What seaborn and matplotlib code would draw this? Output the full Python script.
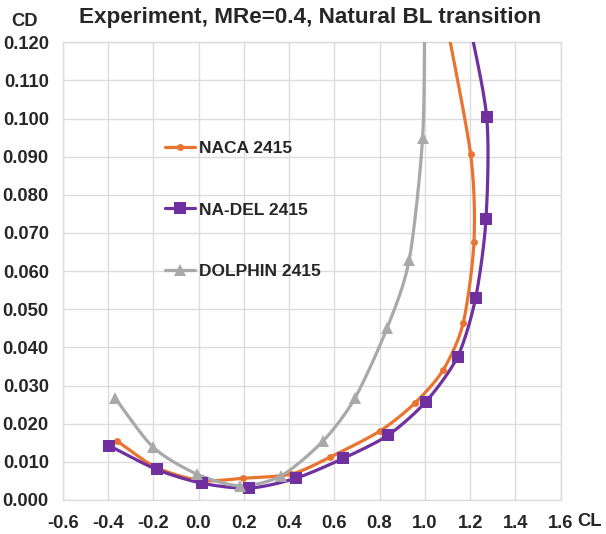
import numpy as np
import pandas as pd
import matplotlib
matplotlib.use("Agg")
import matplotlib.pyplot as plt
from matplotlib.lines import Line2D
import seaborn as sns

# ---- data ----
naca_cl = [-0.361, -0.19, 0.007, 0.198, 0.41, 0.581, 0.802, 0.956, 1.081, 1.169, 1.217, 1.202, 1.08]
naca_cd = [0.0155, 0.0086, 0.0051, 0.0057, 0.0068, 0.0112, 0.0181, 0.0254, 0.0341, 0.0463, 0.0677, 0.0907, 0.130]

nadel_cl = [-0.394, -0.185, 0.014, 0.224, 0.430, 0.639, 0.838, 1.005, 1.145, 1.224, 1.270, 1.273, 1.18]
nadel_cd = [0.0142, 0.0080, 0.0044, 0.0031, 0.0057, 0.0109, 0.0170, 0.0258, 0.0376, 0.0529, 0.0736, 0.1005, 0.130]

dolphin_cl = [-0.369, -0.200, -0.008, 0.183, 0.364, 0.551, 0.691, 0.834, 0.931, 0.990, 1.000]
dolphin_cd = [0.0267, 0.0138, 0.0068, 0.0037, 0.0063, 0.0155, 0.0267, 0.0452, 0.0630, 0.0950, 0.130]

series_names = ["NACA 2415", "NA-DEL 2415", "DOLPHIN 2415"]
x_ticks = [-0.6, -0.4, -0.2, 0.0, 0.2, 0.4, 0.6, 0.8, 1.0, 1.2, 1.4, 1.6]
y_ticks = [0.000, 0.010, 0.020, 0.030, 0.040, 0.050, 0.060, 0.070, 0.080, 0.090, 0.100, 0.110, 0.120]

colors = {"NACA 2415": "#E8742F", "NA-DEL 2415": "#7030A0", "DOLPHIN 2415": "#A9A9A9"}
markers = {"NACA 2415": "o", "NA-DEL 2415": "s", "DOLPHIN 2415": "^"}
msizes = {"NACA 2415": 5, "NA-DEL 2415": 8, "DOLPHIN 2415": 8.5}


def smooth_path(xs, ys, xscale, yscale, n=30):
    """Excel-like smooth line: cardinal spline through the points (in display-scaled space)."""
    P = np.column_stack([np.asarray(xs) * xscale, np.asarray(ys) * yscale])
    P = np.vstack([2 * P[0] - P[1], P, 2 * P[-1] - P[-2]])
    out = []
    for i in range(1, len(P) - 2):
        p0, p1, p2, p3 = P[i - 1], P[i], P[i + 1], P[i + 2]
        t = np.linspace(0, 1, n, endpoint=(i == len(P) - 3))
        m1 = (p2 - p0) / 2 * 0.8
        m2 = (p3 - p1) / 2 * 0.8
        h00 = 2 * t**3 - 3 * t**2 + 1
        h10 = t**3 - 2 * t**2 + t
        h01 = -2 * t**3 + 3 * t**2
        h11 = t**3 - t**2
        seg = (np.outer(h00, p1) + np.outer(h10, m1) + np.outer(h01, p2) + np.outer(h11, m2))
        out.append(seg)
    out = np.vstack(out)
    return out[:, 0] / xscale, out[:, 1] / yscale


sns.set_theme(style="whitegrid")
plt.rcParams["font.family"] = ["Liberation Sans", "DejaVu Sans"]

fig = plt.figure(figsize=(6.06, 5.34), dpi=100)
ax = fig.add_axes([0.1035, 0.0637, 0.8217, 0.8571])
ax.set_facecolor("white")

data = {
    "NACA 2415": (naca_cl, naca_cd),
    "NA-DEL 2415": (nadel_cl, nadel_cd),
    "DOLPHIN 2415": (dolphin_cl, dolphin_cd),
}

# pixels per unit in the axes
xscale = 226.4
yscale = 38140.0

for name in series_names:
    xs, ys = data[name]
    sx, sy = smooth_path(xs, ys, xscale, yscale)
    sns.lineplot(x=sx, y=sy, sort=False, estimator=None, ax=ax, color=colors[name],
                 linewidth=2.3, zorder=3)
    sns.lineplot(x=xs, y=ys, sort=False, estimator=None, ax=ax, color=colors[name],
                 linewidth=0, marker=markers[name], markersize=msizes[name],
                 markeredgewidth=0, zorder=4)

TXT = "#262626"
ax.set_xlim(-0.6, 1.6)
ax.set_ylim(0.0, 0.12)
ax.set_xticks(x_ticks)
ax.set_yticks(y_ticks)
ax.set_xticklabels([f"{v:.1f}" for v in x_ticks], fontsize=13.2, fontweight="bold", color=TXT)
ax.set_yticklabels([f"{v:.3f}" for v in y_ticks], fontsize=13.2, fontweight="bold", color=TXT)
ax.tick_params(axis="x", length=0, pad=11)
ax.tick_params(axis="y", length=0, pad=10)
ax.grid(True, color="#dcdcdc", linewidth=1.0)
for s in ax.spines.values():
    s.set_color("#dcdcdc")
    s.set_linewidth(1.0)
ax.set_xlabel("")
ax.set_ylabel("")

# axis titles as in the reference
fig.text(24 / 606, 1 - 21 / 534, "CD", ha="center", va="center", fontsize=13.2,
         fontweight="bold", color=TXT)
fig.text(590 / 606, 1 - 521.5 / 534, "CL", ha="center", va="center", fontsize=13.2,
         fontweight="bold", color=TXT)
fig.text(310 / 606, 1 - 18 / 534, "Experiment, MRe=0.4, Natural BL transition", ha="center",
         va="center", fontsize=16.2, fontweight="bold", color=TXT)

handles = [Line2D([0], [0], color=colors[n], linewidth=2.3, marker=markers[n],
                  markersize=msizes[n], markeredgewidth=0) for n in series_names]
leg = ax.legend(handles, series_names, loc="upper left", bbox_to_anchor=(0.205, 0.785),
                frameon=False, borderaxespad=0, borderpad=0, handlelength=1.75,
                handletextpad=0.2, labelspacing=2.68,
                prop={"weight": "bold", "size": 12.5, "family": ["Liberation Sans", "DejaVu Sans"]})
for t in leg.get_texts():
    t.set_color(TXT)

fig.savefig("out.png", dpi=100)
